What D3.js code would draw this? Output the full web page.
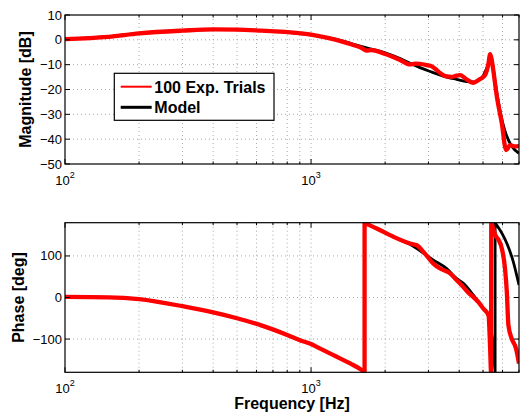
<!DOCTYPE html>
<html>
<head>
<meta charset="utf-8">
<script src="https://cdn.jsdelivr.net/npm/d3@7/dist/d3.min.js"></script>
<style>
  html, body { margin: 0; padding: 0; background: #fff; }
  svg { display: block; font-family: "Liberation Sans", Arial, Helvetica, sans-serif; }
</style>
</head>
<body>
<svg id="chart" width="522" height="413"></svg>
<script>
// ---------- DATA ----------
const freqDomain = [100, 7000];
const magDomain = [-50, 10];
const phaseDomain = [-180, 180];
const magTicks = [10, 0, -10, -20, -30, -40, -50];
const phaseTicks = [100, 0, -100];
const freqMajorTicks = [100, 1000];
const freqMinorTicks = [200, 300, 400, 500, 600, 700, 800, 900, 2000, 3000, 4000, 5000, 6000, 7000];
const legendLabels = ["100 Exp. Trials", "Model"];

// Magnitude [dB] : [frequency Hz, value]
const magModel = [
  [100, 0.3], [150, 1.3], [200, 2.6], [300, 3.8], [400, 4.1], [500, 4.1], [627, 3.7],
  [755, 3.2], [1000, 2.0], [1169, 0.9], [1300, -0.1], [1455, -1.5], [1754, -3.7],
  [1985, -5.1], [2301, -7.5], [2550, -9.6], [2772, -11.2], [3100, -13.0], [3445, -14.6],
  [3900, -15.9], [4300, -16.8], [4600, -16.9], [4791, -16.2], [5000, -14.6], [5098, -12.8],
  [5220, -10.5], [5312, -8.1], [5380, -7.0], [5450, -8.5], [5520, -12.5], [5610, -17.5],
  [5855, -28.3], [6120, -36.3], [6350, -40.5], [6560, -43.0], [7000, -45.7]
];
const magTrials = [
  [100, 0.3], [150, 1.2], [200, 2.6], [300, 3.7], [400, 4.2], [500, 4.1], [627, 3.7],
  [755, 3.3], [1000, 2.1], [1169, 0.8], [1300, -0.3], [1455, -1.8], [1600, -3.2],
  [1680, -4.3], [1754, -4.1], [1985, -5.6], [2301, -8.1], [2523, -9.9], [2650, -9.6],
  [2772, -9.7], [2950, -10.2], [3095, -10.7], [3295, -12.8], [3510, -14.6], [3735, -14.9],
  [3900, -14.4], [4036, -14.2], [4230, -15.5], [4574, -17.3], [4791, -16.2], [5000, -15.0],
  [5098, -14.2], [5250, -10.0], [5343, -5.8], [5410, -7.5], [5477, -10.8], [5690, -22.9],
  [5961, -33.6], [6205, -44.4], [6443, -42.4], [6700, -42.9], [7000, -42.8]
];

// Phase [deg] : [frequency Hz, value]  (wrap points listed twice: -180 then +180)
const phaseModel = [
  [100, 1.5], [150, 0.5], [200, -4], [300, -21], [400, -36], [500, -50], [627, -67],
  [800, -90], [901, -102.6], [1000, -112], [1054, -118.7], [1233, -138.7], [1442, -158.7],
  [1608, -174.8], [1650, -180], [1650, 180], [1700, 176], [1849, 166], [2162, 146],
  [2525, 128], [2690, 118], [3141, 90], [3550, 70], [3900, 46], [4160, 34], [4569, 5.5],
  [5000, -26], [5263, -45], [5400, -80], [5530, -140], [5598, -180], [5598, 180],
  [5690, 174], [6000, 152], [6270, 128], [6637, 86], [7000, 30]
];
const phaseTrials = [
  [100, 1.5], [150, 0.5], [200, -4], [300, -21], [400, -36], [500, -50], [627, -67],
  [800, -90], [901, -102.6], [1000, -112], [1054, -118.7], [1233, -138.7], [1442, -158.7],
  [1608, -174.8], [1650, -180], [1650, 180], [1700, 176], [1849, 166], [2162, 146],
  [2525, 130], [2690, 125.7], [2863, 109.6], [3141, 81.7], [3344, 69.7], [3673, 58],
  [3900, 42], [4160, 25], [4350, 12], [4569, 1], [4800, -12], [5000, -26], [5263, -43],
  [5343, -122], [5390, -180], [5400, 180], [5477, 170], [5610, 150], [5790, 138],
  [5960, 118], [6140, 70], [6245, 14], [6340, -67], [6540, -99], [6810, -123], [7000, -159]
];

// ---------- LAYOUT ----------
const svg = d3.select("#chart");
const left = 65, right = 519;
const panels = [
  { id: "mag", top: 15, bottom: 164, domain: magDomain, ticks: magTicks,
    model: magModel, trials: magTrials, label: "Magnitude [dB]", labelX: 31, showLegend: true },
  { id: "phase", top: 222.7, bottom: 372.3, domain: phaseDomain, ticks: phaseTicks,
    model: phaseModel, trials: phaseTrials, label: "Phase [deg]", labelX: 24, showLegend: false }
];

const x = d3.scaleLog().domain(freqDomain).range([left, right]);
const fmtY = v => v < 0 ? "\u2212" + Math.abs(v) : String(v);

// split a series into segments at wrap points (same frequency listed twice)
function segments(data) {
  const segs = [[data[0]]];
  for (let i = 1; i < data.length; i++) {
    if (data[i][0] === data[i - 1][0]) segs.push([data[i]]);
    else segs[segs.length - 1].push(data[i]);
  }
  return segs;
}

panels.forEach(p => {
  const y = d3.scaleLinear().domain(p.domain).range([p.bottom, p.top]);
  const g = svg.append("g");

  svg.append("clipPath").attr("id", "clip-" + p.id)
    .append("rect").attr("x", left).attr("y", p.top)
    .attr("width", right - left).attr("height", p.bottom - p.top);

  // grid
  const grid = g.append("g").attr("stroke", "#a8a8a8").attr("stroke-width", 1)
    .attr("stroke-dasharray", "1,3");
  freqMajorTicks.concat(freqMinorTicks).forEach(f => {
    if (f <= freqDomain[0] || f >= freqDomain[1]) return;
    grid.append("line").attr("x1", x(f)).attr("x2", x(f))
      .attr("y1", p.top).attr("y2", p.bottom);
  });
  p.ticks.forEach(t => {
    if (t <= p.domain[0] || t >= p.domain[1]) return;
    grid.append("line").attr("x1", left).attr("x2", right)
      .attr("y1", y(t)).attr("y2", y(t));
  });

  // lines
  const line = d3.line().x(d => x(d[0])).y(d => y(d[1])).curve(d3.curveMonotoneX);
  const lines = g.append("g").attr("clip-path", "url(#clip-" + p.id + ")")
    .attr("fill", "none").attr("stroke-linejoin", "round");
  function drawSeries(data, color, width) {
    const segs = segments(data);
    let d = "";
    segs.forEach((s, i) => {
      const path = line(s);
      d += (i === 0) ? path : "L" + path.slice(1);
    });
    lines.append("path").attr("d", d).attr("stroke", color).attr("stroke-width", width);
  }
  drawSeries(p.model, "#000", 2.8);
  drawSeries(p.trials, "#ff0000", 4.3);

  // ticks (inward, all four sides)
  const ticks = g.append("g").attr("stroke", "#000").attr("stroke-width", 1);
  freqMajorTicks.forEach(f => {
    ticks.append("line").attr("x1", x(f)).attr("x2", x(f)).attr("y1", p.bottom).attr("y2", p.bottom - 5);
    ticks.append("line").attr("x1", x(f)).attr("x2", x(f)).attr("y1", p.top).attr("y2", p.top + 5);
  });
  freqMinorTicks.forEach(f => {
    ticks.append("line").attr("x1", x(f)).attr("x2", x(f)).attr("y1", p.bottom).attr("y2", p.bottom - 2.5);
    ticks.append("line").attr("x1", x(f)).attr("x2", x(f)).attr("y1", p.top).attr("y2", p.top + 2.5);
  });
  p.ticks.forEach(t => {
    ticks.append("line").attr("x1", left).attr("x2", left + 5).attr("y1", y(t)).attr("y2", y(t));
    ticks.append("line").attr("x1", right).attr("x2", right - 5).attr("y1", y(t)).attr("y2", y(t));
  });

  // box
  g.append("rect").attr("x", left).attr("y", p.top)
    .attr("width", right - left).attr("height", p.bottom - p.top)
    .attr("fill", "none").attr("stroke", "#000").attr("stroke-width", 1.2);

  // y tick labels
  p.ticks.forEach(t => {
    g.append("text").attr("x", 62).attr("y", y(t)).attr("dy", "0.35em")
      .attr("text-anchor", "end").attr("font-size", 13).attr("fill", "#000")
      .text(fmtY(t));
  });

  // x tick labels 10^n
  freqMajorTicks.forEach(f => {
    const t = g.append("text").attr("x", x(f)).attr("y", p.bottom + 20.5)
      .attr("text-anchor", "middle").attr("font-size", 13).attr("fill", "#000");
    t.append("tspan").text("10");
    t.append("tspan").attr("font-size", 9).attr("dy", -7).text(String(Math.round(Math.log10(f))));
  });

  // y axis label
  g.append("text")
    .attr("transform", `translate(${p.labelX},${(p.top + p.bottom) / 2}) rotate(-90)`)
    .attr("text-anchor", "middle").attr("font-size", 16).attr("font-weight", "bold")
    .attr("fill", "#000").text(p.label);

  // legend
  if (p.showLegend) {
    const lg = svg.append("g");
    lg.append("rect").attr("x", 114.3).attr("y", 73.3).attr("width", 159.7).attr("height", 47)
      .attr("fill", "#fff").attr("stroke", "#000").attr("stroke-width", 1.2);
    const rows = [
      { label: legendLabels[0], color: "#ff0000", w: 2, yy: 86.7 },
      { label: legendLabels[1], color: "#000", w: 3, yy: 107.3 }
    ];
    rows.forEach(r => {
      lg.append("line").attr("x1", 120.7).attr("x2", 151.7).attr("y1", r.yy).attr("y2", r.yy)
        .attr("stroke", r.color).attr("stroke-width", r.w);
      lg.append("text").attr("x", 154.3).attr("y", r.yy + 5.8)
        .attr("font-size", 16).attr("font-weight", "bold").attr("fill", "#000").text(r.label);
    });
  }
});

// x axis label
svg.append("text").attr("x", (left + right) / 2).attr("y", 409)
  .attr("text-anchor", "middle").attr("font-size", 16).attr("font-weight", "bold")
  .attr("fill", "#000").text("Frequency [Hz]");
</script>
</body>
</html>
